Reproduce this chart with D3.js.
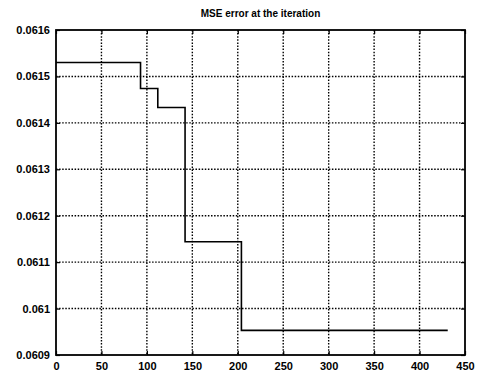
<!DOCTYPE html>
<html><head><meta charset="utf-8">
<script src="https://cdn.jsdelivr.net/npm/d3@7"></script>
<style>
body{margin:0;background:#fff;}
text{font-family:"Liberation Sans",Arial,sans-serif;fill:#000;}
</style></head>
<body><svg id="c" width="482" height="374"></svg>
<script>
const iterations = [0, 93, 112, 142, 204, 431];
const mseValues = [0.06153, 0.061474, 0.061433, 0.061144, 0.060953, 0.060953];
const xTicks = [0, 50, 100, 150, 200, 250, 300, 350, 400, 450];
const yTicks = [0.0609, 0.061, 0.0611, 0.0612, 0.0613, 0.0614, 0.0615, 0.0616];
const yTickLabels = ["0.0609", "0.061", "0.0611", "0.0612", "0.0613", "0.0614", "0.0615", "0.0616"];
const title = "MSE error at the iteration";

const svg = d3.select("#c");
const L = 56, R = 465, T = 30, B = 355;
const x = d3.scaleLinear().domain([0, 450]).range([L, R]);
const y = d3.scaleLinear().domain([0.0609, 0.0616]).range([B, T]);

const g = svg.append("g");
g.selectAll(".gx").data(xTicks.slice(1, -1)).enter().append("line")
  .attr("x1", d => x(d)).attr("x2", d => x(d)).attr("y1", T).attr("y2", B)
  .attr("stroke", "#000").attr("stroke-width", 1.4).attr("stroke-dasharray", "1.5,1.6");
g.selectAll(".gy").data(yTicks.slice(1, -1)).enter().append("line")
  .attr("y1", d => y(d)).attr("y2", d => y(d)).attr("x1", L).attr("x2", R)
  .attr("stroke", "#000").attr("stroke-width", 1.4).attr("stroke-dasharray", "1.5,1.6");

const xa = svg.append("g").attr("transform", `translate(0,${B})`)
  .call(d3.axisBottom(x).tickValues(xTicks).tickSize(-4).tickPadding(7).tickFormat(d3.format("d")));
const ya = svg.append("g").attr("transform", `translate(${L},0)`)
  .call(d3.axisLeft(y).tickValues(yTicks).tickSize(-4).tickPadding(6).tickFormat((d, i) => yTickLabels[i]));
[xa, ya].forEach(a => {
  a.select(".domain").remove();
  a.selectAll("line").attr("stroke", "#000").attr("stroke-width", 1.2);
  a.selectAll("text").attr("font-size", 11).attr("font-weight", "bold").style("font-family", "'Liberation Sans',Arial,sans-serif");
});
svg.append("g").attr("transform", `translate(0,${T})`)
  .call(d3.axisTop(x).tickValues(xTicks).tickSize(-4).tickFormat(""))
  .call(a => { a.select(".domain").remove(); a.selectAll("line").attr("stroke", "#000").attr("stroke-width", 1.2); });
svg.append("g").attr("transform", `translate(${R},0)`)
  .call(d3.axisRight(y).tickValues(yTicks).tickSize(-4).tickFormat(""))
  .call(a => { a.select(".domain").remove(); a.selectAll("line").attr("stroke", "#000").attr("stroke-width", 1.2); });

svg.append("rect").attr("x", L).attr("y", T).attr("width", R - L).attr("height", B - T)
  .attr("fill", "none").attr("stroke", "#000").attr("stroke-width", 1.8);

const pts = iterations.map((d, i) => [d, mseValues[i]]);
svg.append("path").datum(pts)
  .attr("d", d3.line().x(d => x(d[0])).y(d => y(d[1])).curve(d3.curveStepAfter))
  .attr("fill", "none").attr("stroke", "#000").attr("stroke-width", 1.6);

svg.append("text").attr("x", (L + R) / 2).attr("y", 17).attr("text-anchor", "middle")
  .attr("font-size", 10).attr("font-weight", "bold").text(title);
</script></body></html>
